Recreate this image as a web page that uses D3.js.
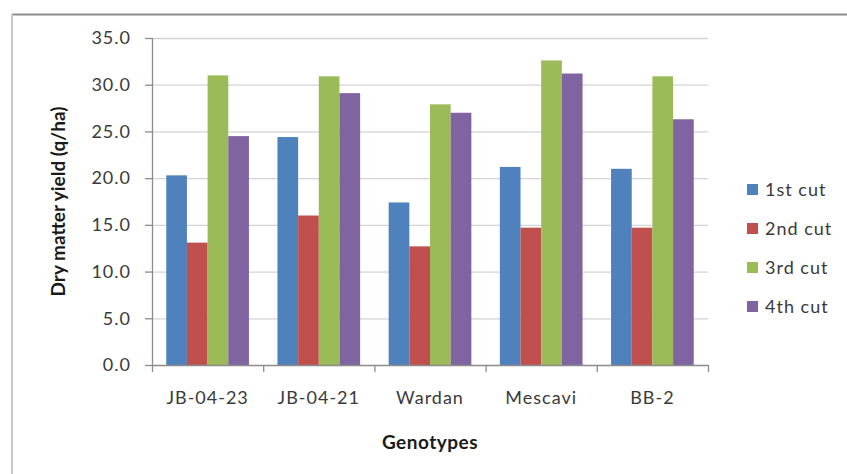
<!DOCTYPE html>
<html>
<head>
<meta charset="utf-8">
<script src="https://cdn.jsdelivr.net/npm/d3@7/dist/d3.min.js"></script>
<style>
  html,body{margin:0;padding:0;background:#fff;}
  #chart{width:847px;height:474px;}
  text{font-family:Lato,"Open Sans",sans-serif;}
</style>
</head>
<body>
<div id="chart"></div>
<script>
const genotypes=["JB-04-23","JB-04-21","Wardan","Mescavi","BB-2"];
const cuts=["1st cut","2nd cut","3rd cut","4th cut"];
const cut1=[20.3,24.4,17.4,21.2,21.0];
const cut2=[13.1,16.0,12.7,14.7,14.7];
const cut3=[31.0,30.9,27.9,32.6,30.9];
const cut4=[24.5,29.1,27.0,31.2,26.3];
const yTicks=[0,5,10,15,20,25,30,35];

(function(){
  const series=[cut1,cut2,cut3,cut4];
  const colors=["#4f81bd","#c0504d","#9bbb59","#8064a2"];
  const W=847,H=474;
  const m={top:38,left:152,right:139,bottom:109};
  const w=W-m.left-m.right, h=H-m.top-m.bottom;
  const tickFont=t=>t.attr("font-size",18).attr("letter-spacing","1px")
    .attr("fill","#3a3a3a").attr("font-family","Lato");

  const svg=d3.select("#chart").append("svg").attr("width",W).attr("height",H);

  // outer chart frame (only top and left edges show in the crop)
  svg.append("line").attr("x1",12).attr("x2",W).attr("y1",14.5).attr("y2",14.5)
    .attr("stroke","#8c8c8c").attr("stroke-width",2);
  svg.append("line").attr("x1",12).attr("x2",12).attr("y1",14).attr("y2",H)
    .attr("stroke","#c8c8c8").attr("stroke-width",2);

  const g=svg.append("g").attr("transform",`translate(${m.left},${m.top})`);

  const x0=d3.scaleBand().domain(genotypes).range([0,w]).paddingInner(0).paddingOuter(0);
  const x1=d3.scaleBand().domain(d3.range(cuts.length))
    .range([0,x0.bandwidth()]).paddingOuter(.69).paddingInner(0);
  const y=d3.scaleLinear().domain([0,35]).range([h,0]);

  // gridlines
  g.append("g").selectAll("line").data(yTicks.filter(t=>t>0)).join("line")
    .attr("x1",0).attr("x2",w).attr("y1",d=>y(d)+.5).attr("y2",d=>y(d)+.5)
    .attr("stroke","#d4d4d4").attr("stroke-width",1.3);

  // bars
  g.selectAll(".grp").data(genotypes).join("g")
    .attr("transform",d=>`translate(${x0(d)},0)`)
    .selectAll("rect").data((d,i)=>series.map((s,k)=>({k,v:s[i]}))).join("rect")
    .attr("x",d=>x1(d.k)).attr("width",x1.bandwidth())
    .attr("y",d=>y(d.v)).attr("height",d=>h-y(d.v))
    .attr("fill",d=>colors[d.k]);

  // y axis
  g.append("g")
    .call(d3.axisLeft(y).tickValues(yTicks).tickFormat(d3.format(".1f")).tickSize(7).tickPadding(14))
    .call(s=>s.select(".domain").attr("stroke","#8c8c8c").attr("stroke-width",1.3).attr("d",`M0.5,0V${h}`))
    .call(s=>s.selectAll("line").attr("stroke","#8c8c8c").attr("stroke-width",1.3))
    .call(s=>s.selectAll("text").call(tickFont));

  // x axis
  g.append("g").attr("transform",`translate(0,${h})`)
    .call(d3.axisBottom(x0).tickSize(0).tickPadding(26))
    .call(s=>s.select(".domain").attr("stroke","#8c8c8c").attr("stroke-width",1.3).attr("d",`M0,0.5H${w}`))
    .call(s=>s.selectAll("text").call(tickFont));
  g.append("g").attr("transform",`translate(0,${h})`)
    .selectAll("line").data(genotypes.map(d=>x0(d)).concat([w])).join("line")
    .attr("x1",d=>d+.5).attr("x2",d=>d+.5).attr("y1",0).attr("y2",7)
    .attr("stroke","#8c8c8c").attr("stroke-width",1.3);

  // axis titles
  svg.append("text").attr("x",m.left+w/2).attr("y",449)
    .attr("text-anchor","middle").attr("font-size",19).attr("font-weight",700)
    .attr("letter-spacing","0.5px").attr("fill","#1a1a1a").text("Genotypes");
  svg.append("text").attr("transform",`translate(65,${m.top+h/2}) rotate(-90)`)
    .attr("text-anchor","middle").attr("font-size",19).attr("font-weight",700)
    .attr("fill","#1a1a1a").text("Dry matter yield (q/ha)");

  // legend
  const lg=svg.append("g").attr("transform","translate(747,190)");
  const item=lg.selectAll("g").data(cuts).join("g")
    .attr("transform",(d,i)=>`translate(0,${i*39})`);
  item.append("rect").attr("x",0).attr("y",-6).attr("width",11).attr("height",11)
    .attr("fill",(d,i)=>colors[i]);
  item.append("text").attr("x",18).attr("y",6).call(tickFont).text(d=>d);
})();
</script>
</body>
</html>
